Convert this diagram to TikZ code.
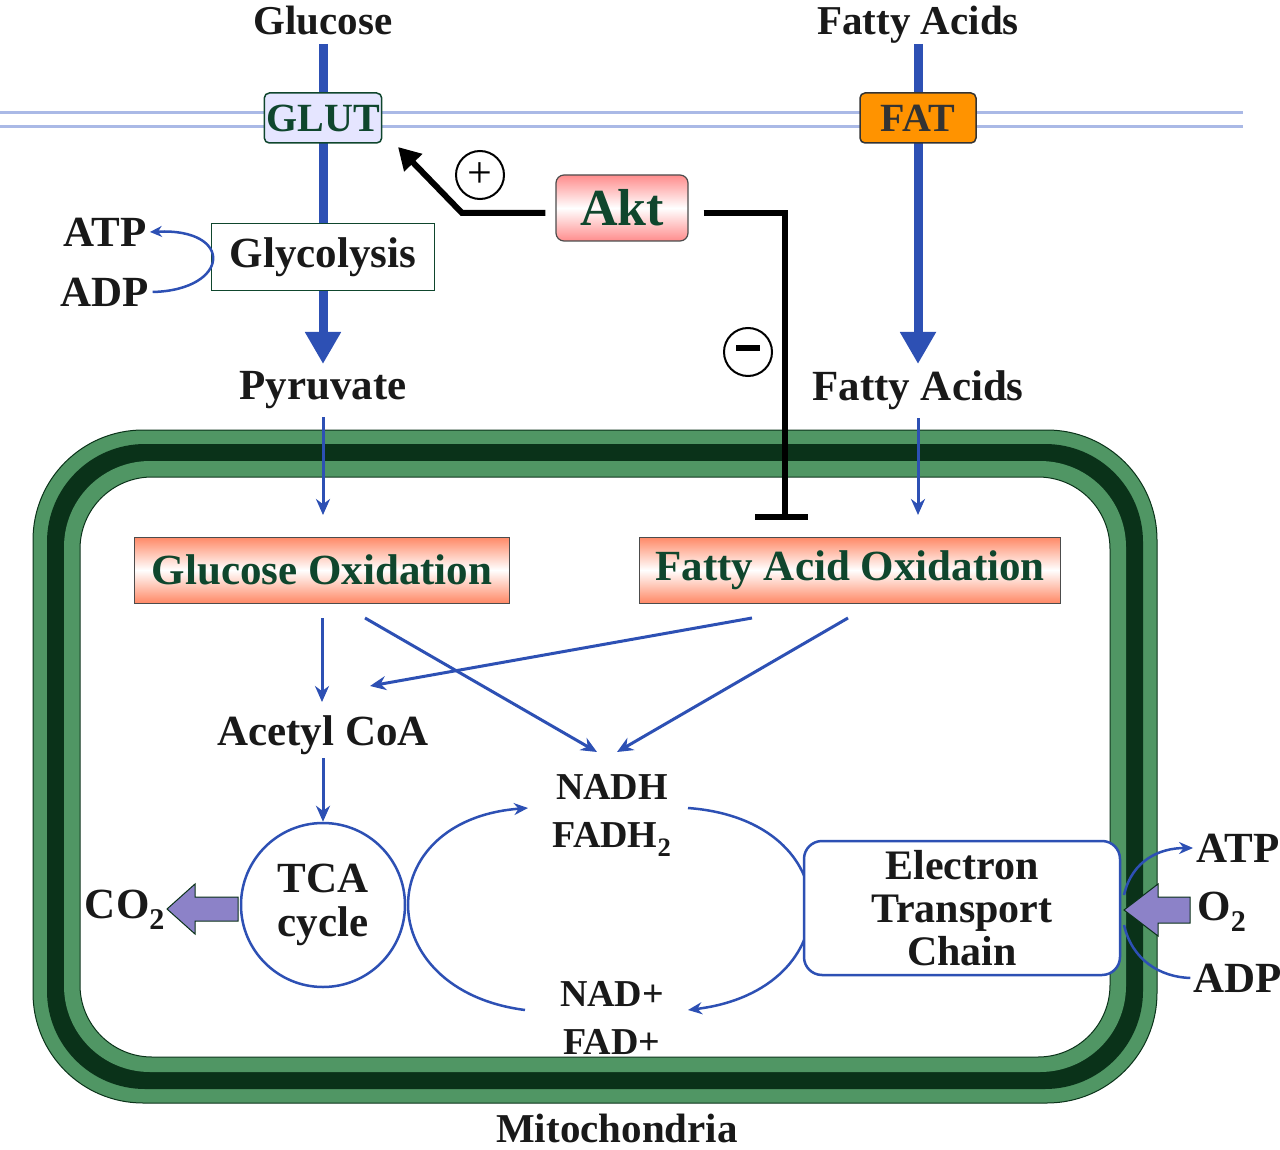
\documentclass[tikz,border=0pt]{standalone}
\usepackage{fontspec}
\setmainfont{Liberation Serif}
\usetikzlibrary{arrows.meta}
\definecolor{pblue}{RGB}{45,80,180}
\definecolor{memb}{RGB}{170,185,230}
\definecolor{mgreen}{RGB}{80,150,100}
\definecolor{dgreen}{RGB}{10,50,25}
\definecolor{tgreen}{RGB}{15,70,45}
\definecolor{purp}{RGB}{140,130,200}
\begin{document}
\begin{tikzpicture}[x=1pt,y=-1pt,
  lab/.style={font=\fontsize{43}{44}\bfseries\selectfont, text=black!90},
  toplab/.style={font=\fontsize{41}{42}\bfseries\selectfont, text=black!90, anchor=base, inner sep=0pt},
  bigarrow/.style={pblue, line width=9pt, -{Triangle[length=32pt,width=34pt]}},
  arr/.style={pblue, line width=3pt, -{Stealth[length=16pt,width=14pt]}},
  thin/.style={pblue, line width=2.5pt},
  oxbox/.style={draw=black!70, line width=1pt, minimum height=66pt, top color=red!55!orange!60, bottom color=red!55!orange!60, middle color=white, font=\fontsize{43}{44}\bfseries\selectfont, text=tgreen},
  sign/.style={circle, draw=black, line width=2pt, minimum size=48pt, inner sep=0pt, font=\fontsize{44}{44}\selectfont}]
\useasboundingbox (0,0) rectangle (1280,1150);
% membrane
\draw[memb, line width=3pt] (0,113) -- (1243,113);
\draw[memb, line width=3pt] (0,127) -- (1243,127);
% mitochondria
\draw[rounded corners=110pt, dgreen, line width=1pt, fill=mgreen] (33,430) rectangle (1157,1103);
\fill[dgreen, rounded corners=98pt] (47,444) rectangle (1143,1089);
\fill[mgreen, rounded corners=86pt] (64,461) rectangle (1126,1072);
\draw[fill=white, draw=dgreen, line width=1pt, rounded corners=72pt] (80,477) rectangle (1110,1057);
\node[toplab] (mito) at (617,1142) {Mitochondria};
% top labels
\node[toplab] (glc) at (323,35) {Glucose};
\node[toplab] (fa1) at (918,35) {Fatty Acids};
\coordinate (gtop) at (323,44);
\coordinate (gend) at (323,364);
\coordinate (ftop) at (918,44);
\coordinate (fend) at (918,364);
\draw[bigarrow] (gtop) -- (gend);
\draw[bigarrow] (ftop) -- (fend);
\node[draw=tgreen, line width=1.5pt, fill=blue!10, rounded corners=5pt, minimum width=116pt, minimum height=50pt, inner xsep=2pt, font=\fontsize{40}{40}\bfseries\selectfont, text=tgreen] (glut) at (323,118) {GLUT};
\node[draw=black!80, line width=1.5pt, fill=orange!85!yellow, rounded corners=5pt, minimum width=116pt, minimum height=50pt, font=\fontsize{40}{40}\bfseries\selectfont, text=black!80] (fat) at (918,118) {FAT};
\node[draw=tgreen, line width=1.2pt, fill=white, minimum width=223pt, minimum height=67pt, inner xsep=2pt, lab] (glyc) at (323,257) {Glycolysis};
\node[lab] (atp1) at (105,232) {ATP};
\node[lab] (adp1) at (105,292) {ADP};
\draw[thin, -{Stealth[length=12pt,width=11pt]}] (adp1.east) .. controls (230,290) and (235,228) .. (atp1.east);
\node[lab] (pyr) at (323,390) {Pyruvate};
\node[lab] (fa2) at (918,390) {Fatty Acids};
% Akt
\node[draw=black!70, line width=1.2pt, rounded corners=8pt, minimum width=132pt, minimum height=66pt, top color=red!45, bottom color=red!45, middle color=white, font=\fontsize{52}{52}\bfseries\selectfont, text=tgreen] (akt) at (622,208) {Akt};
\coordinate (k1) at (462,213);
\coordinate (glutin) at (398,147);
\draw[line width=6pt, -{Triangle[length=22pt,width=24pt]}] (akt.west|-k1) ++(-10,0) -- (k1) -- (glutin);
\coordinate (k2) at (785,213);
\coordinate (k3) at (785,517);
\draw[line width=6pt] (akt.east|-k2) ++(15,0) -- (k2) -- (k3);
\draw[line width=6pt] (755,517) -- (808,517);
\node[sign] (plus) at (480,175) {+};
\node[sign] (minus) at (748,352) {\rule[7pt]{24pt}{6pt}};
% oxidation
\draw[arr] (pyr.south) ++(0,5) -- (323,515);
\draw[arr] (fa2.south) ++(0,5) -- (918,515);
\node[oxbox, minimum width=375pt] (gox) at (322,570) {Glucose Oxidation};
\node[oxbox, minimum width=421pt] (fox) at (850,570) {Fatty Acid Oxidation};
\node[lab] (acoa) at (323,735) {Acetyl CoA};
\node[lab, align=center, font=\fontsize{38}{48}\bfseries\selectfont] (nadh) at (612,815) {NADH\\FADH$_{\mathbf 2}$};
\node[lab, align=center, font=\fontsize{38}{48}\bfseries\selectfont] (nad) at (612,1018) {NAD+\\FAD+};
\draw[arr] (322,618) -- (322,702);
\draw[arr] (365,618) -- (597,752);
\draw[arr] (752,618) -- (370,686);
\draw[arr] (848,618) -- (617,752);
\node[circle, draw=pblue, line width=2.5pt, minimum size=164pt, inner sep=0pt, align=center, lab, font=\fontsize{43}{44}\bfseries\selectfont] (tca) at (323,905) {TCA\\cycle};
\draw[arr] (323,758) -- (tca.north);
\node[lab] (co2) at (125,910) {CO$_{\mathbf 2}$};
\fill[purp, draw=dgreen, line width=1pt] (238,897) -- (195,897) -- (195,884) -- (167,909) -- (195,934) -- (195,921) -- (238,921) -- cycle;
% loops
\draw[thin, -{Stealth[length=14pt,width=12pt]}] (525,1010) .. controls (370,990) and (370,820) .. (528,808);
\draw[thin, -{Stealth[length=14pt,width=12pt]}] (688,808) .. controls (850,820) and (850,990) .. (688,1010);
\node[draw=pblue, line width=2.5pt, fill=white, rounded corners=18pt, minimum width=316pt, minimum height=134pt, inner sep=0pt, align=center, lab, font=\fontsize{42}{43}\bfseries\selectfont] (etc) at (962,908) {Electron\\Transport\\Chain};
\node[lab] (atp2) at (1238,848) {ATP};
\node[lab, anchor=west] (o2) at (1194,912) {O$_{\mathbf 2}$};
\node[lab] (adp2) at (1238,978) {ADP};
\draw[thin, -{Stealth[length=14pt,width=12pt]}] (1124,895) .. controls (1132,860) and (1160,848) .. (atp2.west);
\draw[thin] (1124,925) .. controls (1132,960) and (1160,977) .. (adp2.west);
\fill[purp, draw=dgreen, line width=1pt] (1190,897) -- (1158,897) -- (1158,884) -- (1124,910) -- (1158,936) -- (1158,923) -- (1190,923) -- cycle;
\end{tikzpicture}
\end{document}
